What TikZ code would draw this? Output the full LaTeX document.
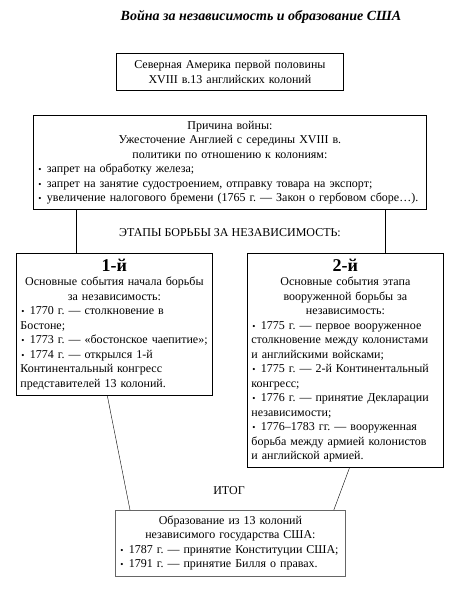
\documentclass[tikz,border=0pt]{standalone}
\usepackage{fontspec}
\setmainfont{Liberation Serif}
\usepackage{tikz}
\usetikzlibrary{calc}
\frenchspacing

\tikzset{
  box/.style={draw=black, line width=0.8pt, inner xsep=4pt, inner ysep=5.5pt, align=left,
    font=\fontsize{12}{14.5}\selectfont},
  label/.style={font=\fontsize{12}{14}\selectfont}
}
\newcommand{\bul}{\hspace{1pt}{\small\textbullet}\hspace{0.45em}}
\newcommand{\stagenum}[1]{{\fontsize{18}{19}\selectfont\bfseries #1}}

\begin{document}
\begin{tikzpicture}[x=1pt,y=-1pt]
			\useasboundingbox (0,0) rectangle (464,591);
			
			\node[font=\fontsize{14}{16}\selectfont\bfseries\itshape] (title) at (261,17) {Война за независимость и образование США};
			
			\node[box, anchor=north west, text width=219pt, minimum height=37pt, align=center] (america) at (116,53)
				{Северная Америка первой половины\\ XVIII в.13 английских колоний};
			
			\node[box, anchor=north west, text width=385pt] (cause) at (33,115)
				{{\centering Причина войны:\\ Ужесточение Англией с середины XVIII в.\\ политики по отношению к колониям:\par}
				\bul запрет на обработку железа;\\
				\bul запрет на занятие судостроением, отправку товара на экспорт;\\
				\bul увеличение налогового бремени (1765 г. — Закон о гербовом сборе…).};
			
			\node[box, anchor=north west, text width=188pt] (stage1) at (16,253)
				{{\centering \stagenum{1-й}\\ Основные события начала борьбы\\ за независимость:\par}
				\bul 1770 г. — столкновение в\\ Бостоне;\\
				\bul 1773 г. — «бостонское чаепитие»;\\
				\bul 1774 г. — открылся 1-й\\ Континентальный конгресс\\ представителей 13 колоний.};
			
			\node[box, anchor=north west, text width=188pt] (stage2) at (247,253)
				{{\centering \stagenum{2-й}\\ Основные события этапа\\ вооруженной борьбы за\\ независимость:\par}
				\bul 1775 г. — первое вооруженное\\ столкновение между колонистами\\ и английскими войсками;\\
				\bul 1775 г. — 2-й Континентальный\\ конгресс;\\
				\bul 1776 г. — принятие Декларации\\ независимости;\\
				\bul 1776–1783 гг. — вооруженная\\ борьба между армией колонистов\\ и английской армией.};
			
			\node[box, draw=black!60, anchor=north west, text width=222pt] (result) at (115,510)
				{{\centering Образование из 13 колоний\\ независимого государства США:\par}
				\bul 1787 г. — принятие Конституции США;\\
				\bul 1791 г. — принятие Билля о правах.};
			
			\node[label] (stages) at (230,233) {ЭТАПЫ БОРЬБЫ ЗА НЕЗАВИСИМОСТЬ:};
			\node[label] (total) at (229,491) {ИТОГ};
			
			% connectors
			\coordinate (s1top) at ($(stage1.north west)!.306!(stage1.north east)$);
			\coordinate (s2top) at ($(stage2.north west)!.70!(stage2.north east)$);
			\draw (cause.south -| s1top) -- (s1top);
			\draw (cause.south -| s2top) -- (s2top);
			\draw ($(stage1.south west)!.464!(stage1.south east)$) -- ($(result.north west)!.065!(result.north east)$);
			\draw ($(stage2.south west)!.52!(stage2.south east)$) -- ($(result.north west)!.948!(result.north east)$);
		\end{tikzpicture}
\end{document}
